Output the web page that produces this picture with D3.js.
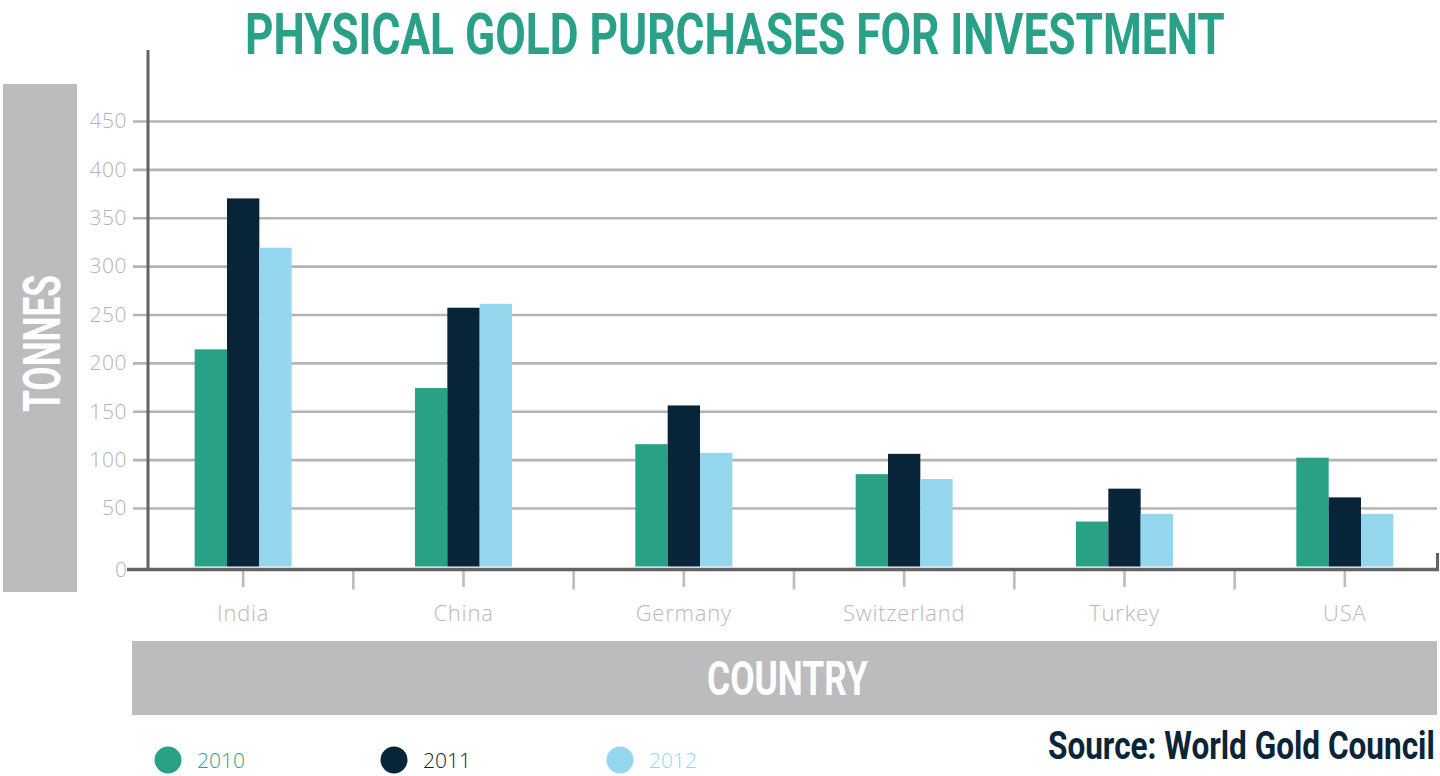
<!DOCTYPE html>
<html>
<head>
<meta charset="utf-8">
<script src="https://cdn.jsdelivr.net/npm/d3@7"></script>
<style>
  body { margin: 0; background: #fff; }
  svg { display: block; }
</style>
</head>
<body>
<svg id="chart" width="1440" height="776"></svg>
<script>
const countries = ['India', 'China', 'Germany', 'Switzerland', 'Turkey', 'USA'];
const years = ['2010', '2011', '2012'];
const v2010 = [214, 174, 116, 85, 36, 102];
const v2011 = [370, 257, 156, 106, 70, 61];
const v2012 = [319, 261, 107, 80, 44, 44];
const yTicks = [50, 100, 150, 200, 250, 300, 350, 400, 450];

const colors = { '2010': '#28a187', '2011': '#072439', '2012': '#95d6ef' };
const series = { '2010': v2010, '2011': v2011, '2012': v2012 };
const rows = countries.map((c, i) => ({ country: c, vals: years.map(yr => ({ year: yr, v: series[yr][i] })) }));

const svg = d3.select('#chart');
const condensed = 'Roboto, "Liberation Sans", sans-serif';
const light = '"Open Sans", Lato, sans-serif';

// layout
const axisX = 148, baseY = 569.5, gridLeft = 133, gridRight = 1437;

const x = d3.scaleBand().domain(countries).range([133, 1455]);
const x1 = d3.scaleBand().domain(years).range([-48.5, 48.5]);
const y = d3.scaleLinear().domain([0, 450]).range([556.4, 121]);

// squeeze a bold text horizontally into a given width (condensed look)
function condensedText(parent, txt, px, py, size, width, fill, rotate) {
  const g = parent.append('g');
  const t = g.append('text')
    .attr('font-family', condensed).attr('font-weight', 700).attr('font-size', size)
    .attr('fill', fill)
    .text(txt);
  const w = t.node().getComputedTextLength() || width;
  g.attr('transform', `translate(${px},${py})${rotate ? ' rotate(-90)' : ''} scale(${width / w},1)`);
  return t;
}

// title
condensedText(svg, 'PHYSICAL GOLD PURCHASES FOR INVESTMENT', 245, 54, 58, 980, '#29a188');

// y label box
svg.append('rect').attr('x', 3).attr('y', 84).attr('width', 74).attr('height', 508).attr('fill', '#bbbcbe');
condensedText(svg, 'TONNES', 60, 412, 52, 137, '#fff', true);

// gridlines + y labels
const yAxis = svg.append('g')
  .attr('transform', `translate(${gridLeft},0)`)
  .call(d3.axisLeft(y).tickValues(yTicks).tickSize(-(gridRight - gridLeft)).tickPadding(6));
yAxis.select('.domain').remove();
yAxis.selectAll('line').attr('stroke', '#b4b4b4').attr('stroke-width', 2.6);
yAxis.selectAll('text')
  .attr('font-family', light).attr('font-weight', 300).attr('font-size', 21)
  .attr('fill', '#b3b3b3').attr('letter-spacing', 0.5);

svg.append('text')
  .attr('x', gridLeft - 6).attr('y', baseY).attr('dy', '0.35em')
  .attr('text-anchor', 'end')
  .attr('font-family', light).attr('font-weight', 300).attr('font-size', 21)
  .attr('fill', '#b3b3b3')
  .text('0');

// bars
const groups = svg.selectAll('.grp').data(rows).enter().append('g')
  .attr('transform', d => `translate(${x(d.country) + x.bandwidth() / 2},0)`);
groups.selectAll('rect').data(d => d.vals).enter().append('rect')
  .attr('x', d => x1(d.year))
  .attr('y', d => y(d.v))
  .attr('width', x1.bandwidth())
  .attr('height', d => baseY - 3 - y(d.v))
  .attr('fill', d => colors[d.year]);

// x axis ticks and labels
const xAxis = svg.append('g')
  .attr('transform', `translate(0,${baseY + 1.5})`)
  .call(d3.axisBottom(x).tickSize(16).tickPadding(18));
xAxis.select('.domain').remove();
xAxis.selectAll('line').attr('stroke', '#bcbcbc').attr('stroke-width', 2.6);
xAxis.selectAll('text')
  .attr('font-family', light).attr('font-weight', 300).attr('font-size', 22)
  .attr('fill', '#b8b8b8').attr('letter-spacing', 0.8);

// between-group ticks
svg.append('g').selectAll('line').data(countries.slice(1)).enter().append('line')
  .attr('x1', d => x(d)).attr('x2', d => x(d))
  .attr('y1', baseY + 1.5).attr('y2', baseY + 20)
  .attr('stroke', '#bcbcbc').attr('stroke-width', 2.6);

// axis lines
svg.append('line').attr('x1', axisX).attr('x2', axisX).attr('y1', 50).attr('y2', baseY + 1.5)
  .attr('stroke', '#636363').attr('stroke-width', 3);
svg.append('line').attr('x1', 127).attr('x2', 1439).attr('y1', baseY).attr('y2', baseY)
  .attr('stroke', '#636363').attr('stroke-width', 3.3);
svg.append('line').attr('x1', 1437.5).attr('x2', 1437.5).attr('y1', 553).attr('y2', baseY + 1.5)
  .attr('stroke', '#636363').attr('stroke-width', 3);

// x label box
svg.append('rect').attr('x', 132).attr('y', 641).attr('width', 1305).attr('height', 74).attr('fill', '#bbbcbe');
condensedText(svg, 'COUNTRY', 707, 695, 49, 161, '#fff');

// legend
const legendX = d3.scalePoint().domain(years).range([168, 620]);
const leg = svg.selectAll('.leg').data(years).enter().append('g')
  .attr('transform', d => `translate(${legendX(d)},760)`);
leg.append('circle').attr('r', 13.5).attr('fill', d => colors[d]);
leg.append('text')
  .attr('x', 29).attr('y', 8)
  .attr('font-family', light).attr('font-weight', 300).attr('font-size', 21)
  .attr('fill', d => colors[d])
  .text(d => d);

// source
condensedText(svg, 'Source: World Gold Council', 1048, 759, 38, 387, '#0a2538');
</script>
</body>
</html>
